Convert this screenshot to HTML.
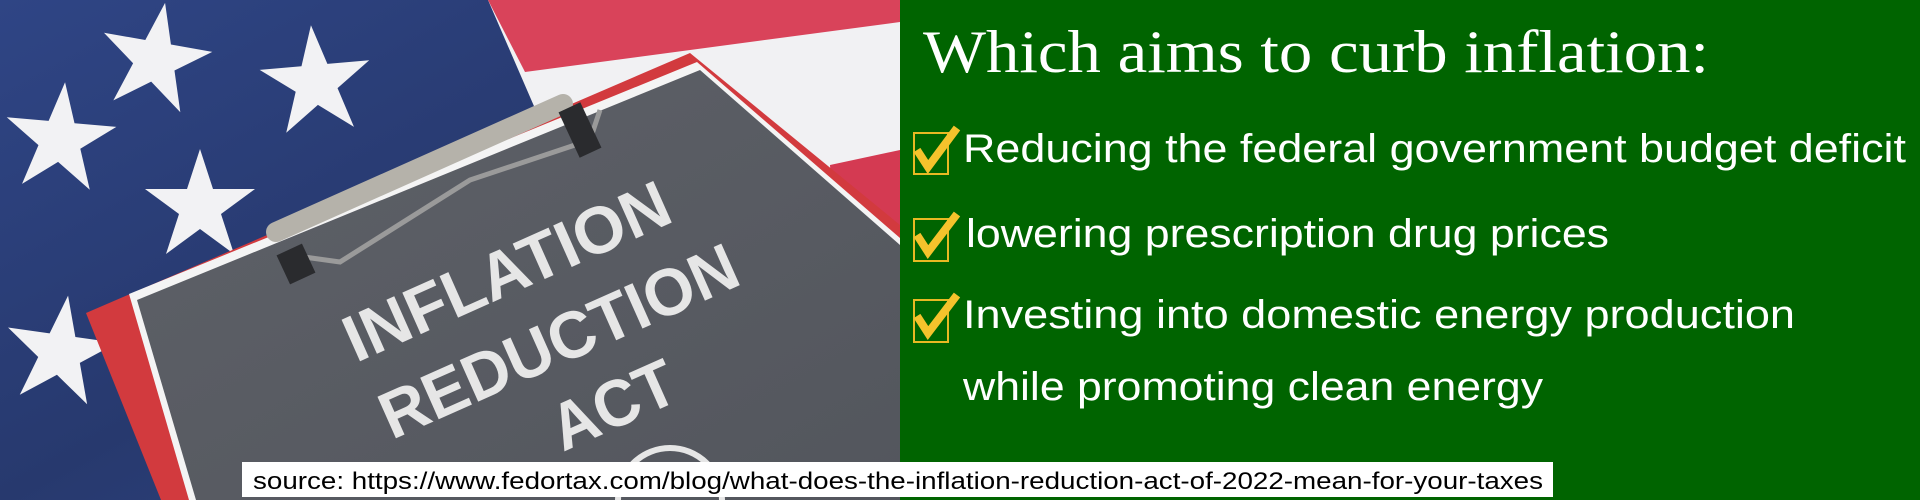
<!DOCTYPE html>
<html><head><meta charset="utf-8"><style>
html,body{margin:0;padding:0;width:1920px;height:500px;overflow:hidden;background:#006400}
svg{display:block;overflow:hidden}
</style></head><body>
<svg width="1920" height="500" viewBox="0 0 1920 500">
  <defs>
    <linearGradient id="blueG" x1="0" y1="0" x2="1" y2="1">
      <stop offset="0" stop-color="#2f4585"/><stop offset="0.5" stop-color="#27396e"/><stop offset="1" stop-color="#33488a"/>
    </linearGradient>
    <linearGradient id="paperG" x1="0" y1="0" x2="1" y2="1">
      <stop offset="0" stop-color="#5e6168"/><stop offset="1" stop-color="#53565d"/>
    </linearGradient>
    <polygon id="star" points="0,-58 13,-18 55,-18 21,7 34,47 0,22 -34,47 -21,7 -55,-18 -13,-18"/>
  </defs>
  <g>
    <rect x="0" y="0" width="900" height="500" fill="url(#blueG)"/>
    <polygon points="488,0 900,0 900,500 560,500 540,120" fill="#f1f1f3"/>
    <polygon points="488,0 900,0 900,22 525,72" fill="#d9435a"/>
    <polygon points="900,150 900,235 835,250 830,165" fill="#d43a52"/>
    <g fill="#f2f2f4">
      <use href="#star" transform="translate(155,60) rotate(10)"/>
      <use href="#star" transform="translate(316,83) rotate(-5)"/>
      <use href="#star" transform="translate(60,140) rotate(5)"/>
      <use href="#star" transform="translate(200,207)"/>
      <use href="#star" transform="translate(60,353) rotate(8)"/>
    </g>
  </g>
  <g>
    <polygon points="690,53 900,225 900,500 161,500 86,313" fill="#d23a3e"/>
    <polygon points="697,62 900,238 900,500 189,500 129,294" fill="#f4f4f4"/>
    <polygon points="700,70 900,245 900,500 196,500 137,300" fill="url(#paperG)"/>
    <line x1="276" y1="232" x2="563" y2="104" stroke="#b5b2aa" stroke-width="20" stroke-linecap="round"/>
    <path d="M290,255 L340,262 L470,180 L590,140 L600,110" fill="none" stroke="#9a9a9a" stroke-width="5"/>
    <rect x="282" y="248" width="28" height="32" fill="#2a2b2e" transform="rotate(-25 296 264)"/>
    <rect x="568" y="105" width="24" height="50" fill="#2a2b2e" transform="rotate(-25 580 130)"/>
    <g fill="#e6e6e6" font-family="Liberation Sans, sans-serif" font-weight="bold">
      <text x="0" y="0" font-size="66" textLength="350" lengthAdjust="spacingAndGlyphs" transform="translate(356,363) rotate(-24)">INFLATION</text>
      <text x="0" y="0" font-size="66" textLength="385" lengthAdjust="spacingAndGlyphs" transform="translate(392,440) rotate(-24)">REDUCTION</text>
      <text x="0" y="0" font-size="66" textLength="130" lengthAdjust="spacingAndGlyphs" transform="translate(563,452) rotate(-24)">ACT</text>
    </g>
    <path d="M618,500 A52,52 0 0 1 722,500" fill="none" stroke="#e6e6e6" stroke-width="6"/>
  </g>
  <rect x="900" y="0" width="1020" height="500" fill="#006400"/>
  <text x="923" y="72" font-family="Liberation Serif, serif" font-size="60" fill="#fff" textLength="786" lengthAdjust="spacingAndGlyphs">Which aims to curb inflation:</text>
  <g>
    <g>
      <rect x="914" y="133" width="34" height="41" fill="none" stroke="#e8b923" stroke-width="2"/>
      <polyline points="917,150 928,167 957,128" fill="none" stroke="#f5c32c" stroke-width="8" stroke-linejoin="miter"/>
    </g>
    <text x="963" y="162" font-family="Liberation Sans, sans-serif" font-size="40" fill="#fff" textLength="943" lengthAdjust="spacingAndGlyphs">Reducing the federal government budget deficit</text>
    <g>
      <rect x="914" y="219" width="34" height="42" fill="none" stroke="#e8b923" stroke-width="2"/>
      <polyline points="917,235 928,252 957,214" fill="none" stroke="#f5c32c" stroke-width="8"/>
    </g>
    <text x="966" y="247" font-family="Liberation Sans, sans-serif" font-size="40" fill="#fff" textLength="643" lengthAdjust="spacingAndGlyphs">lowering prescription drug prices</text>
    <g>
      <rect x="914" y="300" width="34" height="42" fill="none" stroke="#e8b923" stroke-width="2"/>
      <polyline points="917,316 928,333 957,295" fill="none" stroke="#f5c32c" stroke-width="8"/>
    </g>
    <text x="963" y="328" font-family="Liberation Sans, sans-serif" font-size="40" fill="#fff" textLength="832" lengthAdjust="spacingAndGlyphs">Investing into domestic energy production</text>
    <text x="963" y="400" font-family="Liberation Sans, sans-serif" font-size="40" fill="#fff" textLength="580" lengthAdjust="spacingAndGlyphs">while promoting clean energy</text>
  </g>
  <g>
    <rect x="242" y="462" width="1311" height="35" fill="#fff"/>
    <text x="253" y="489" font-family="Liberation Sans, sans-serif" font-size="24" fill="#000" textLength="1290" lengthAdjust="spacingAndGlyphs">source: https://www.fedortax.com/blog/what-does-the-inflation-reduction-act-of-2022-mean-for-your-taxes</text>
  </g>
</svg>
</body></html>
